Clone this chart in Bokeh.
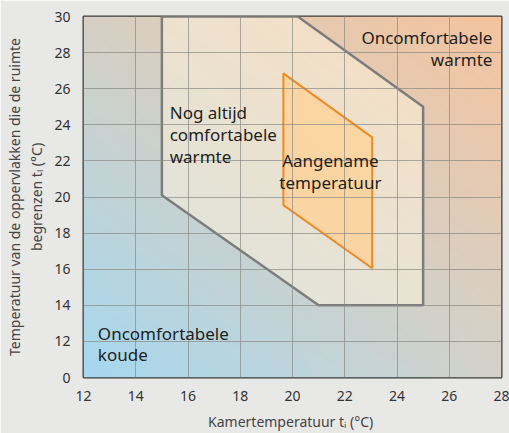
import numpy as np
from bokeh.plotting import figure
from bokeh.models import FixedTicker, Label
from bokeh.embed import file_html
from bokeh.resources import INLINE

# ---- data ----
x_ticks = [12, 14, 16, 18, 20, 22, 24, 26, 28]
y_ticks = [10, 12, 14, 16, 18, 20, 22, 24, 26, 28, 30]
y_tick_labels = {10: "0"}

# "Nog altijd comfortabele warmte" zone (room temp, surface temp)
comfort_x = [15.0, 20.2, 25.0, 25.0, 21.0, 15.0]
comfort_y = [30.0, 30.0, 25.0, 14.0, 14.0, 20.1]

# "Aangename temperatuur" zone
pleasant_x = [19.65, 23.05, 23.05, 19.65]
pleasant_y = [26.85, 23.3, 16.05, 19.55]

FONT = "Noto Sans"

p = figure(width=509, height=433, x_range=(12, 28), y_range=(10, 30),
           output_backend="svg", toolbar_location=None,
           min_border_left=83, min_border_right=8, min_border_top=16, min_border_bottom=52)
p.border_fill_color = "#e8e8e6"
p.background_fill_color = "#d8d4cc"
p.outline_line_color = "#3a3a3a"
p.outline_line_width = 2

# background gradient (style)
n = 80
u = np.linspace(0, 1, n)[None, :]
v = np.linspace(0, 1, n)[:, None]
TL = np.array([214, 208, 196]); TR = np.array([246, 196, 158])
BL = np.array([166, 216, 240]); BR = np.array([212, 210, 202])
img = np.empty((n, n), dtype=np.uint32)
view = img.view(dtype=np.uint8).reshape((n, n, 4))
for c in range(3):
    col = (BL[c] * (1 - u) * (1 - v) + BR[c] * u * (1 - v)
           + TL[c] * (1 - u) * v + TR[c] * u * v)
    view[:, :, c] = col.astype(np.uint8)
view[:, :, 3] = 255
p.image_rgba(image=[img], x=12, y=10, dw=16, dh=20)

p.patch(comfort_x, comfort_y, fill_color="#fff6df", fill_alpha=0.5,
        line_color="#7d7d7d", line_width=2.5)
p.patch(pleasant_x, pleasant_y, fill_color="#fdd29a", fill_alpha=0.85,
        line_color="#f08a24", line_width=2)

# axes
p.xaxis.ticker = FixedTicker(ticks=x_ticks)
p.yaxis.ticker = FixedTicker(ticks=y_ticks)
p.yaxis.major_label_overrides = y_tick_labels
for ax in (p.xaxis[0], p.yaxis[0]):
    ax.axis_line_color = None
    ax.major_tick_line_color = None
    ax.minor_tick_line_color = None
    ax.major_label_text_font = FONT
    ax.major_label_text_font_size = "14px"
    ax.major_label_text_color = "#333333"
    ax.axis_label_text_font = FONT
    ax.axis_label_text_font_size = "14px"
    ax.axis_label_text_font_style = "normal"
    ax.axis_label_text_color = "#444444"
p.xaxis.axis_label = "Kamertemperatuur  t\u1d62 (\u00b0C)"
p.yaxis.axis_label = "Temperatuur van de oppervlakken die de ruimte\nbegrenzen t\u2097 (\u00b0C)"
p.xaxis.major_label_standoff = 7
p.yaxis.major_label_standoff = 7
p.xaxis.axis_label_standoff = 8
p.yaxis.axis_label_standoff = 5

for g in (p.xgrid[0], p.ygrid[0]):
    g.grid_line_color = "#8a8a84"
    g.grid_line_alpha = 0.7
    g.grid_line_width = 1
    g.level = "annotation"
p.xgrid.ticker = FixedTicker(ticks=x_ticks)
p.ygrid.ticker = FixedTicker(ticks=y_ticks)

def lab(x, y, t, align="left"):
    p.add_layout(Label(x=x, y=y, text=t, text_font=FONT, text_font_size="17px",
                       text_color="#1e1e1e", text_align=align, text_baseline="top",
                       text_line_height=0.95, level="overlay"))

lab(27.65, 29.45, "Oncomfortabele\nwarmte", "right")
lab(15.3, 25.3, "Nog altijd\ncomfortabele\nwarmte")
lab(21.45, 22.65, "Aangename\ntemperatuur", "center")
lab(12.55, 13.1, "Oncomfortabele\nkoude")

open("out.html", "w").write(file_html(p, INLINE))
